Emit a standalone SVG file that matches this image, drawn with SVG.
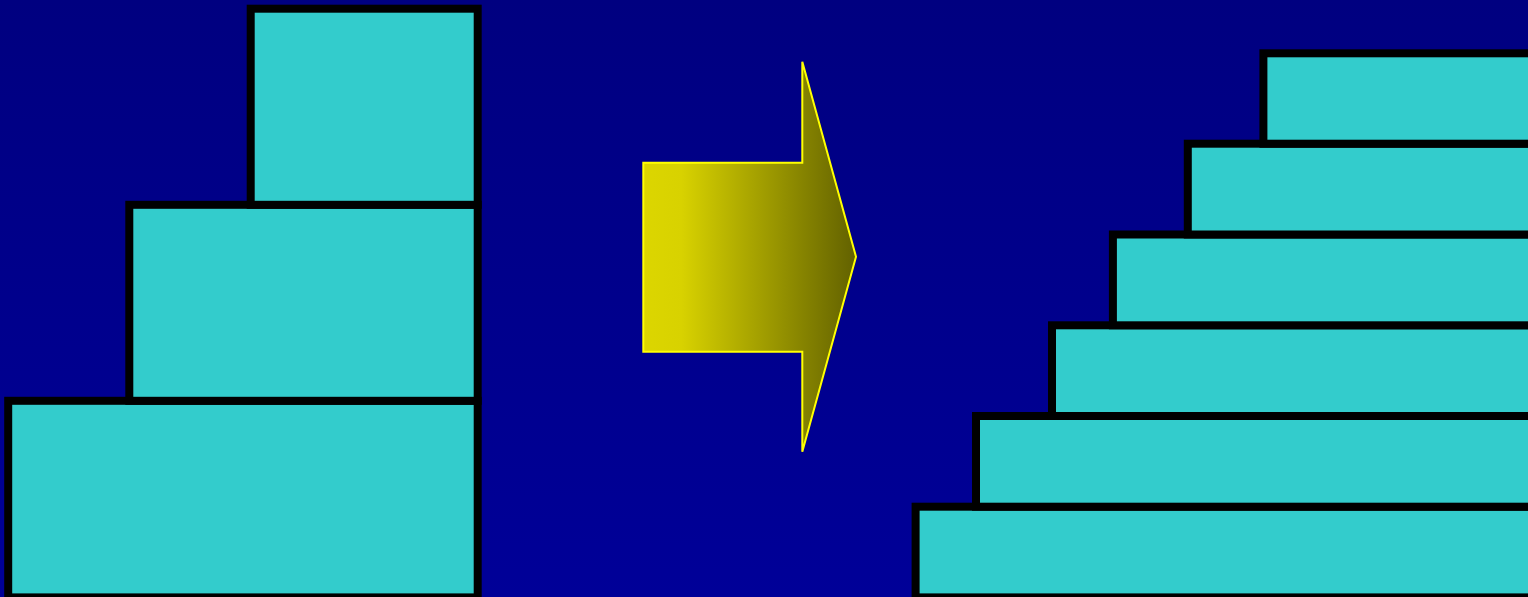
<svg xmlns="http://www.w3.org/2000/svg" width="1528" height="597" viewBox="0 0 1528 597">
  <defs>
    <linearGradient id="bg" x1="0" y1="0" x2="0" y2="1">
      <stop offset="0" stop-color="#000080"/>
      <stop offset="1" stop-color="#000098"/>
    </linearGradient>
    <linearGradient id="arrowFill" gradientUnits="userSpaceOnUse" x1="643" y1="0" x2="856" y2="0">
      <stop offset="0" stop-color="#dcd600"/>
      <stop offset="0.18" stop-color="#d8d200"/>
      <stop offset="1" stop-color="#626100"/>
    </linearGradient>
    <style>
      .blk { fill: #33cccc; stroke: #000000; stroke-width: 8; }
      .arrow { fill: url(#arrowFill); stroke: #ffff00; stroke-width: 2; stroke-linejoin: miter; }
    </style>
  </defs>
  <rect x="0" y="0" width="1528" height="597" fill="url(#bg)"/>

  <g id="left-stack">
    <g id="left-block-3"><rect class="blk" x="8.2" y="400.8" width="469.5" height="196.6"/></g>
    <g id="left-block-2"><rect class="blk" x="129.3" y="204.8" width="348.4" height="196"/></g>
    <g id="left-block-1"><rect class="blk" x="250.7" y="8.7" width="227" height="196.1"/></g>
  </g>

  <g id="arrow">
    <polygon class="arrow" points="643.3,162.7 802.3,162.7 802.3,61.7 856,256.7 802.3,451.7 802.3,351.7 643.3,351.7"/>
  </g>

  <g id="right-stack">
    <g id="right-block-6"><rect class="blk" x="915.6" y="506.7" width="640" height="90.7"/></g>
    <g id="right-block-5"><rect class="blk" x="976" y="416" width="580" height="90.7"/></g>
    <g id="right-block-4"><rect class="blk" x="1052" y="325.3" width="500" height="90.7"/></g>
    <g id="right-block-3"><rect class="blk" x="1112.9" y="234.5" width="450" height="90.8"/></g>
    <g id="right-block-2"><rect class="blk" x="1187.8" y="143.7" width="400" height="90.8"/></g>
    <g id="right-block-1"><rect class="blk" x="1263.4" y="53.3" width="300" height="90.4"/></g>
  </g>

  <g id="connectors"></g>
</svg>
